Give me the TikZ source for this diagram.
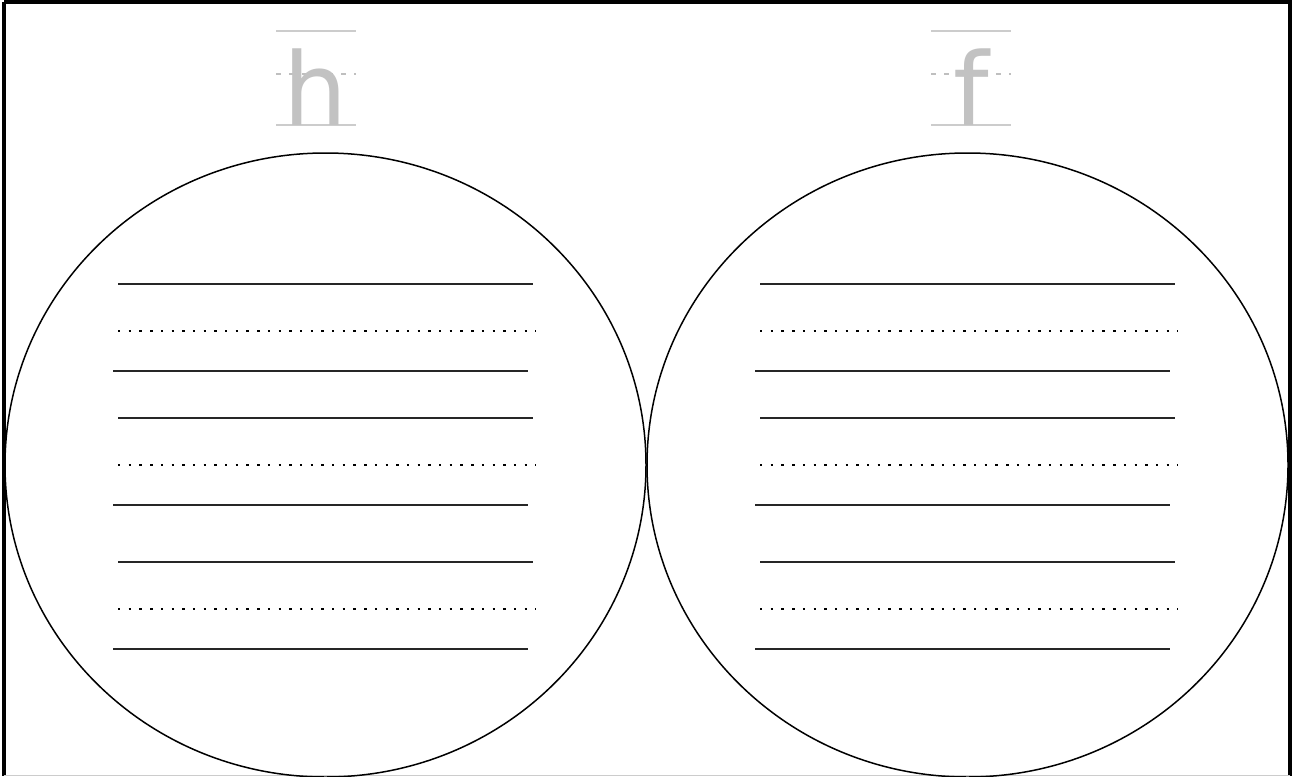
\documentclass[tikz,border=0pt]{standalone}
\usepackage{fontspec}
\newfontfamily\letterfont{DejaVu Sans}
\begin{document}
\begin{tikzpicture}[x=1pt,y=-1pt,
  frame/.style={line width=3.2pt,draw=black},
  bubble/.style={line width=1.5pt,draw=black},
  writeline/.style={line width=2pt,draw=black!85},
  dotline/.style={line width=2.6pt,draw=black,dash pattern=on 2.4pt off 8.3pt},
  guide/.style={line width=1.2pt,draw=black!20},
  guidedash/.style={line width=1.2pt,draw=black!25,dash pattern=on 5pt off 8pt},
  letter/.style={text=black!24,font=\letterfont\fontsize{101}{101}\selectfont,inner sep=0pt,anchor=base}]
\useasboundingbox (0,0) rectangle (1295,776);
\fill[white] (0,0) rectangle (1295,776);
% frame
\draw[frame] (4,2) -- (1290,2) -- (1290,776);
\draw[frame] (4,2) -- (4,776);
\draw[line width=1pt,draw=black!20] (4,775.5) -- (1290,775.5);
% circles
\draw[bubble] (325.5,465) ellipse [x radius=320.5,y radius=312];
\draw[bubble] (967.5,465) ellipse [x radius=320.5,y radius=312];
% letter guides and letters
\foreach \cx/\name/\ch in {316/lh/h,971/lf/f}{
  \draw[guide] (\cx-40,31) -- (\cx+40,31);
  \draw[guidedash] (\cx-40,74) -- (\cx+40,74);
  \draw[guide] (\cx-40,125) -- (\cx+40,125);
  \node[letter] (\name) at (\cx,125) {\ch};
}
% writing lines
\foreach \dx in {0,642}{
  \foreach \y in {0,134,278}{
    \draw[writeline] (118+\dx,284+\y) -- (533+\dx,284+\y);
    \draw[dotline] (118+\dx,331+\y) -- (536+\dx,331+\y);
    \draw[writeline] (113+\dx,371+\y) -- (528+\dx,371+\y);
  }
}
\end{tikzpicture}
\end{document}
